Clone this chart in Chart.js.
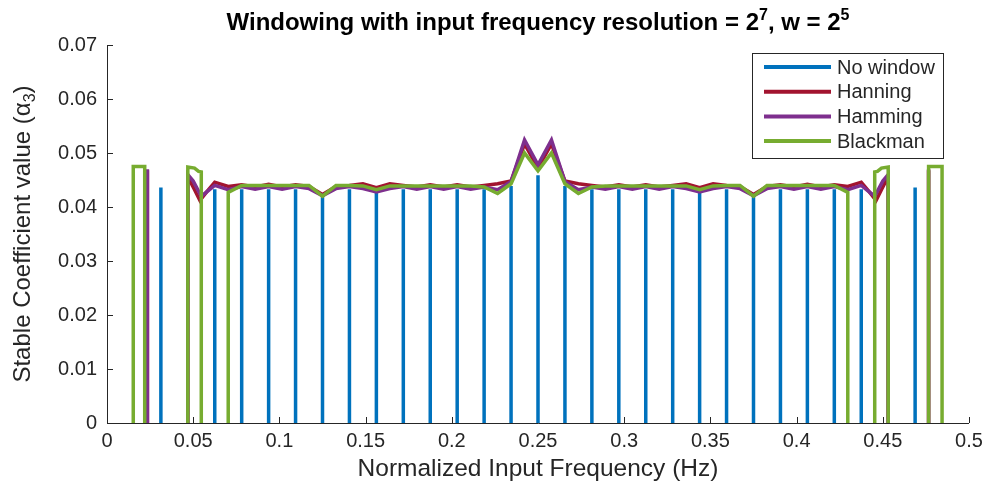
<!DOCTYPE html>
<html lang="en">
<head>
<meta charset="UTF-8" />
<title>Windowing with input frequency resolution</title>
<script src="https://cdn.jsdelivr.net/npm/chart.js@4"></script>
<style>
  html, body { margin: 0; padding: 0; background: #fff; }
</style>
</head>
<body>
<canvas id="grafico" width="990" height="493"></canvas>

<script>
const N = 128; // bins per unit of normalized frequency
const FONT = "'Liberation Sans', Arial, Helvetica, sans-serif";
const INK = "#262626";

const xTicks = [0, 0.05, 0.1, 0.15, 0.2, 0.25, 0.3, 0.35, 0.4, 0.45, 0.5];
const yTicks = [0, 0.01, 0.02, 0.03, 0.04, 0.05, 0.06, 0.07];

// No window: one spike per bin
const noWindowBins = [4, 8, 10, 12, 14, 16, 18, 20, 22, 24, 26, 28, 30, 32, 34,
  36, 38, 40, 42, 44, 46, 48, 50, 52, 54, 56, 60];
const noWindowValues = [0.0436, 0.0433, 0.0433, 0.0433, 0.0433, 0.0421, 0.0433, 0.0428,
  0.0433, 0.0433, 0.0433, 0.0433, 0.0439, 0.0459, 0.0439, 0.0433, 0.0433, 0.0433,
  0.0433, 0.0428, 0.0433, 0.0421, 0.0433, 0.0433, 0.0433, 0.0433, 0.0436];

// windowed curves: bin position + value, a null breaks the line
const hanningBins = [3, 3, 3,
  6, 6, 6.5, 6.9, 7.4, 8,
  9, 10, 11, 12, 13, 14, 15, 16, 17, 18, 19, 20, 21, 22, 23, 24, 25, 26, 27, 28, 29, 30,
  31, 32, 33, 34, 35, 36, 37, 38, 39, 40, 41, 42, 43, 44, 45, 46, 47, 48, 49, 50, 51, 52,
  53, 54, 55, 56,
  56.6, 57.1, 57.5, 58, 58, 58,
  61, 61];
const hanningValues = [0, 0.0468, null,
  0, 0.0456, 0.0432, 0.0412, 0.0428, 0.0446,
  0.0438, 0.0441, 0.0437, 0.0442, 0.0437, 0.0441, 0.0438, 0.0423, 0.0438, 0.0440, 0.0443,
  0.0436, 0.0443, 0.0440, 0.0437, 0.0441, 0.0437, 0.0441, 0.0437, 0.0440, 0.0443, 0.0448,
  0.0517, 0.0472, 0.0517, 0.0448, 0.0443, 0.0440, 0.0437, 0.0441, 0.0437, 0.0441, 0.0437,
  0.0440, 0.0443, 0.0436, 0.0443, 0.0440, 0.0438, 0.0423, 0.0438, 0.0441, 0.0437, 0.0442,
  0.0437, 0.0441, 0.0438, 0.0446,
  0.0428, 0.0412, 0.0432, 0.0456, 0, null,
  0, 0.0468];

const hammingBins = [3, 3, 3,
  6, 6, 6.4, 7, 7.5, 8,
  9, 10, 11, 12, 13, 14, 15, 16, 17, 18, 19, 20, 21, 22, 23, 24, 25, 26, 27, 28, 29, 30,
  31, 32, 33, 34, 35, 36, 37, 38, 39, 40, 41, 42, 43, 44, 45, 46, 47, 48, 49, 50, 51, 52,
  53, 54, 55, 56,
  56.5, 57, 57.6, 58, 58, 58,
  61, 61];
const hammingValues = [0, 0.0470, null,
  0, 0.0460, 0.0448, 0.0420, 0.0430, 0.0440,
  0.0432, 0.0438, 0.0433, 0.0438, 0.0433, 0.0438, 0.0434, 0.0421, 0.0434, 0.0438, 0.0434,
  0.0428, 0.0434, 0.0438, 0.0433, 0.0438, 0.0433, 0.0438, 0.0433, 0.0437, 0.0432, 0.0447,
  0.0524, 0.0478, 0.0524, 0.0447, 0.0432, 0.0437, 0.0433, 0.0438, 0.0433, 0.0438, 0.0433,
  0.0438, 0.0434, 0.0428, 0.0434, 0.0438, 0.0434, 0.0421, 0.0434, 0.0438, 0.0433, 0.0438,
  0.0433, 0.0438, 0.0432, 0.0440,
  0.0430, 0.0420, 0.0448, 0.0460, 0, null,
  0, 0.0470];

const blackmanBins = [1.95, 1.95, 2.8, 2.8, 2.8,
  6, 6, 6.5, 6.8, 7, 7, 7,
  9, 9, 10, 11, 12, 13, 14, 15, 16, 17, 18, 19, 20, 21, 22, 23, 24, 25, 26, 27, 28, 29, 30,
  31, 32, 33, 34, 35, 36, 37, 38, 39, 40, 41, 42, 43, 44, 45, 46, 47, 48, 49, 50, 51, 52,
  53, 54, 55, 55, 55,
  57, 57, 57.2, 57.5, 58, 58, 58,
  61, 61, 62, 62];
const blackmanValues = [0, 0.0475, 0.0475, 0, null,
  0, 0.0474, 0.0472, 0.0466, 0.0465, 0, null,
  0, 0.0427, 0.0440, 0.0440, 0.0440, 0.0440, 0.0440, 0.0440, 0.0420, 0.0440, 0.0440, 0.0439,
  0.0432, 0.0439, 0.0439, 0.0439, 0.0439, 0.0439, 0.0439, 0.0439, 0.0437, 0.0425, 0.0443,
  0.0500, 0.0467, 0.0500, 0.0443, 0.0425, 0.0437, 0.0439, 0.0439, 0.0439, 0.0439, 0.0439,
  0.0439, 0.0439, 0.0432, 0.0439, 0.0440, 0.0440, 0.0420, 0.0440, 0.0440, 0.0440, 0.0440,
  0.0440, 0.0440, 0.0427, 0, null,
  0, 0.0465, 0.0466, 0.0472, 0.0474, 0, null,
  0, 0.0475, 0.0475, 0];

function curve(bins, values) {
  return bins.map((b, i) => ({ x: b / N, y: values[i] }));
}

function spikes(bins, values) {
  const pts = [];
  bins.forEach((b, i) => {
    pts.push({ x: b / N, y: 0 }, { x: b / N, y: values[i] }, { x: b / N, y: null });
  });
  return pts;
}

// axes lines with inward ticks, title, axis labels and boxed legend
const matlabLook = {
  id: "matlabLook",
  beforeDatasetsDraw(chart) {
    const { ctx, chartArea: a, scales } = chart;
    ctx.save();
    ctx.strokeStyle = INK;
    ctx.lineWidth = 1;
    ctx.beginPath();
    ctx.moveTo(a.left + 0.5, a.top);
    ctx.lineTo(a.left + 0.5, a.bottom + 0.5);
    ctx.lineTo(a.right, a.bottom + 0.5);
    xTicks.forEach(v => {
      const px = Math.round(scales.x.getPixelForValue(v)) + 0.5;
      ctx.moveTo(px, a.bottom);
      ctx.lineTo(px, a.bottom - 6);
    });
    yTicks.forEach(v => {
      const py = Math.round(scales.y.getPixelForValue(v)) + 0.5;
      ctx.moveTo(a.left, py);
      ctx.lineTo(a.left + 6, py);
    });
    ctx.stroke();
    ctx.restore();
  },
  afterDraw(chart) {
    const { ctx, chartArea: a } = chart;
    const cx = (a.left + a.right) / 2;
    ctx.save();

    // title with superscripts
    const parts = [
      ["Windowing with input frequency resolution = 2", false],
      ["7", true],
      [", w = 2", false],
      ["5", true]
    ];
    const big = "bold 24px " + FONT, small = "bold 16px " + FONT;
    let total = 0;
    parts.forEach(([t, sup]) => { ctx.font = sup ? small : big; total += ctx.measureText(t).width; });
    let x = cx - total / 2;
    ctx.fillStyle = "#000";
    ctx.textBaseline = "alphabetic";
    ctx.textAlign = "left";
    parts.forEach(([t, sup]) => {
      ctx.font = sup ? small : big;
      ctx.fillText(t, x, sup ? 20 : 30);
      x += ctx.measureText(t).width;
    });

    // x label
    ctx.fillStyle = INK;
    ctx.font = "24.5px " + FONT;
    ctx.textAlign = "center";
    ctx.fillText("Normalized Input Frequency (Hz)", cx, 476);

    // y label with subscript
    const yParts = [["Stable Coefficient value (", false], ["\u03B1", false], ["3", true], [")", false]];
    const lab = "24px " + FONT, sub = "16px " + FONT;
    let tw = 0;
    yParts.forEach(([t, s]) => { ctx.font = s ? sub : lab; tw += ctx.measureText(t).width; });
    ctx.translate(30, (a.top + a.bottom) / 2);
    ctx.rotate(-Math.PI / 2);
    ctx.textAlign = "left";
    let yx = -tw / 2;
    yParts.forEach(([t, s]) => {
      ctx.font = s ? sub : lab;
      ctx.fillText(t, yx, s ? 5 : 0);
      yx += ctx.measureText(t).width;
    });
    ctx.setTransform(1, 0, 0, 1, 0, 0);

    // legend box
    const box = { left: 752, top: 53, width: 191, height: 105 };
    ctx.fillStyle = "#fff";
    ctx.fillRect(box.left, box.top, box.width, box.height);
    ctx.strokeStyle = INK;
    ctx.lineWidth = 1;
    ctx.strokeRect(box.left + 0.5, box.top + 0.5, box.width, box.height);
    ctx.font = "20px " + FONT;
    ctx.textBaseline = "middle";
    ctx.textAlign = "left";
    chart.data.datasets.forEach((ds, i) => {
      const ry = box.top + 14 + i * 24.7;
      ctx.strokeStyle = ds.borderColor;
      ctx.lineWidth = 4;
      ctx.beginPath();
      ctx.moveTo(box.left + 12, ry);
      ctx.lineTo(box.left + 79, ry);
      ctx.stroke();
      ctx.fillStyle = INK;
      ctx.fillText(ds.label, box.left + 85, ry + 1);
    });
    ctx.restore();
  }
};

const common = { pointRadius: 0, borderWidth: 3.5, fill: false, tension: 0, spanGaps: false };

new Chart(document.getElementById("grafico"), {
  type: "line",
  data: {
    datasets: [
      { ...common, label: "No window", data: spikes(noWindowBins, noWindowValues), borderColor: "#0072BD", order: 4 },
      { ...common, label: "Hanning", data: curve(hanningBins, hanningValues), borderColor: "#A2142F", order: 3 },
      { ...common, label: "Hamming", data: curve(hammingBins, hammingValues), borderColor: "#7E2F8E", order: 2 },
      { ...common, label: "Blackman", data: curve(blackmanBins, blackmanValues), borderColor: "#77AC30", order: 1 }
    ]
  },
  options: {
    responsive: false,
    animation: false,
    devicePixelRatio: 1,
    layout: { padding: { top: 45, right: 21, bottom: 0, left: 0 } },
    plugins: { legend: { display: false }, tooltip: { enabled: false }, title: { display: false } },
    scales: {
      x: {
        type: "linear", min: 0, max: 0.5,
        afterBuildTicks: s => { s.ticks = xTicks.map(v => ({ value: v })); },
        afterFit: s => { s.height = 70; },
        grid: { display: false, drawTicks: false },
        border: { display: false },
        ticks: { color: INK, font: { family: FONT, size: 20 }, padding: 6, maxRotation: 0, autoSkip: false, callback: v => String(v) }
      },
      y: {
        type: "linear", min: 0, max: 0.07,
        afterBuildTicks: s => { s.ticks = yTicks.map(v => ({ value: v })); },
        afterFit: s => { s.width = 107; },
        grid: { display: false, drawTicks: false },
        border: { display: false },
        ticks: { color: INK, font: { family: FONT, size: 20 }, padding: 10, autoSkip: false, callback: v => String(v) }
      }
    }
  },
  plugins: [matlabLook]
});
</script>
</body>
</html>
